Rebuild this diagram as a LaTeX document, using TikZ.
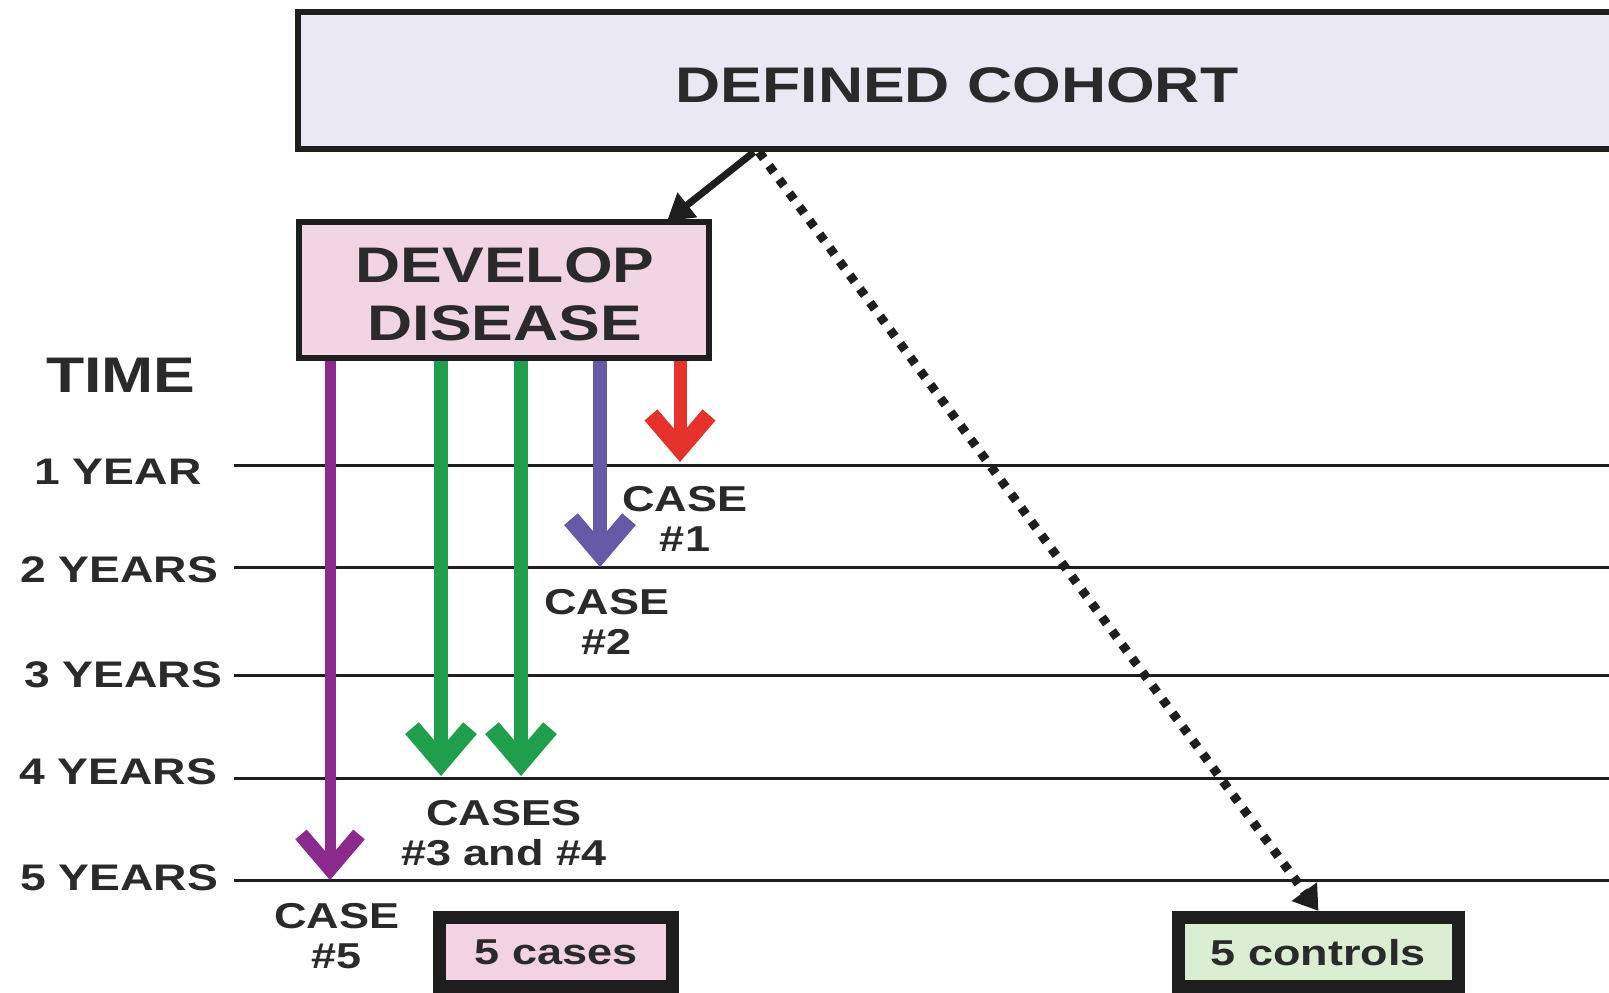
\documentclass[tikz,border=0pt]{standalone}
\usepackage{fontspec}
\setmainfont{Liberation Sans}[FakeStretch=1.25]
\usetikzlibrary{arrows.meta}
\definecolor{txt}{HTML}{2A2A2A}
\definecolor{linec}{HTML}{1E1E1E}
\definecolor{cohortfill}{HTML}{E9E8F3}
\definecolor{devfill}{HTML}{F2D5E4}
\definecolor{casefill}{HTML}{F3D3E3}
\definecolor{ctrlfill}{HTML}{DCEED2}
\definecolor{cpurple}{HTML}{8B2A8C}
\definecolor{cgreen}{HTML}{1F9E4B}
\definecolor{cblue}{HTML}{6659A8}
\definecolor{cred}{HTML}{E5322A}
\begin{document}
\begin{tikzpicture}[x=1pt,y=-1pt,
  big/.style={font=\fontsize{50}{58}\selectfont\bfseries, text=txt, align=center},
  lbl/.style={font=\fontsize{36}{40}\selectfont\bfseries, text=txt, align=center, inner sep=0pt},
  yearlbl/.style={font=\fontsize{37}{40}\selectfont\bfseries, text=txt, inner sep=0pt},
  bigbox/.style={draw=linec, line width=6pt},
  smallbox/.style={draw=linec, line width=13pt, lbl},
  yearline/.style={draw=linec, line width=3pt},
  casearrow/.style={-{Straight Barb[length=34pt,width=58pt,line width=4pt 1]}, line width=#1},
]
\useasboundingbox (0,0) rectangle (1609,993);
\fill[white] (0,0) rectangle (1609,993);
\clip (0,0) rectangle (1609,993);

% boxes
\node[bigbox, fill=cohortfill, minimum width=1318pt, minimum height=137pt] (cohort) at (957,80.5) {};
\node[big] (cohorttext) at (957,85) {DEFINED COHORT};
\node[bigbox, fill=devfill, minimum width=410pt, minimum height=136pt] (develop) at (504,290) {};
\node[big] (developtext) at (505,294) {DEVELOP\\DISEASE};
\node[smallbox, fill=casefill, minimum width=233pt, minimum height=69.5pt] (cases) at (556,952.2) {5 cases};
\node[smallbox, fill=ctrlfill, minimum width=280pt, minimum height=69.5pt] (controls) at (1318.5,952.2) {5 controls};

% time axis
\node[big] (time) at (121,375) {TIME};
\node[yearlbl] (l1) at (118,472) {1 YEAR};
\node[yearlbl] (l2) at (119,570) {2 YEARS};
\node[yearlbl] (l3) at (123,675) {3 YEARS};
\node[yearlbl] (l4) at (118,772) {4 YEARS};
\node[yearlbl] (l5) at (119,878) {5 YEARS};

\coordinate (s1) at (234,465); \coordinate (e1) at (1609,465);
\coordinate (s2) at (234,567); \coordinate (e2) at (1609,567);
\coordinate (s3) at (234,675); \coordinate (e3) at (1609,675);
\coordinate (s4) at (234,778); \coordinate (e4) at (1609,778);
\coordinate (s5) at (234,880); \coordinate (e5) at (1609,880);
\foreach \i in {1,...,5} {\draw[yearline] (s\i) -- (e\i);}

% case arrows
\coordinate (t5) at (330,880);
\coordinate (t3) at (441,776);
\coordinate (t4) at (521,776);
\coordinate (t2) at (600,567);
\coordinate (t1) at (680,462);
\draw[casearrow=11pt, cpurple] (t5 |- develop.south) -- (t5);
\draw[casearrow=14pt, cgreen] (t3 |- develop.south) -- (t3);
\draw[casearrow=14pt, cgreen] (t4 |- develop.south) -- (t4);
\draw[casearrow=14pt, cblue] (t2 |- develop.south) -- (t2);
\draw[casearrow=13pt, cred] (t1 |- develop.south) -- (t1);

% case labels
\node[lbl] (case1) at (685,519) {CASE\\\#1};
\node[lbl] (case2) at (607,622) {CASE\\\#2};
\node[lbl] (case34) at (504,833) {CASES\\\#3 and \#4};
\node[lbl] (case5) at (337,936) {CASE\\\#5};

% cohort connectors
\coordinate (c1) at (754,152);
\coordinate (d1) at (667,221);
\draw[linec, line width=7pt, -{Triangle[length=26pt,width=30pt]}] (c1) -- (d1);
\coordinate (c2) at (759,152);
\draw[linec, line width=9pt, dash pattern=on 8pt off 9pt, -{Triangle[length=24pt,width=30pt]}] (c2) -- (controls.north);
\end{tikzpicture}
\end{document}
